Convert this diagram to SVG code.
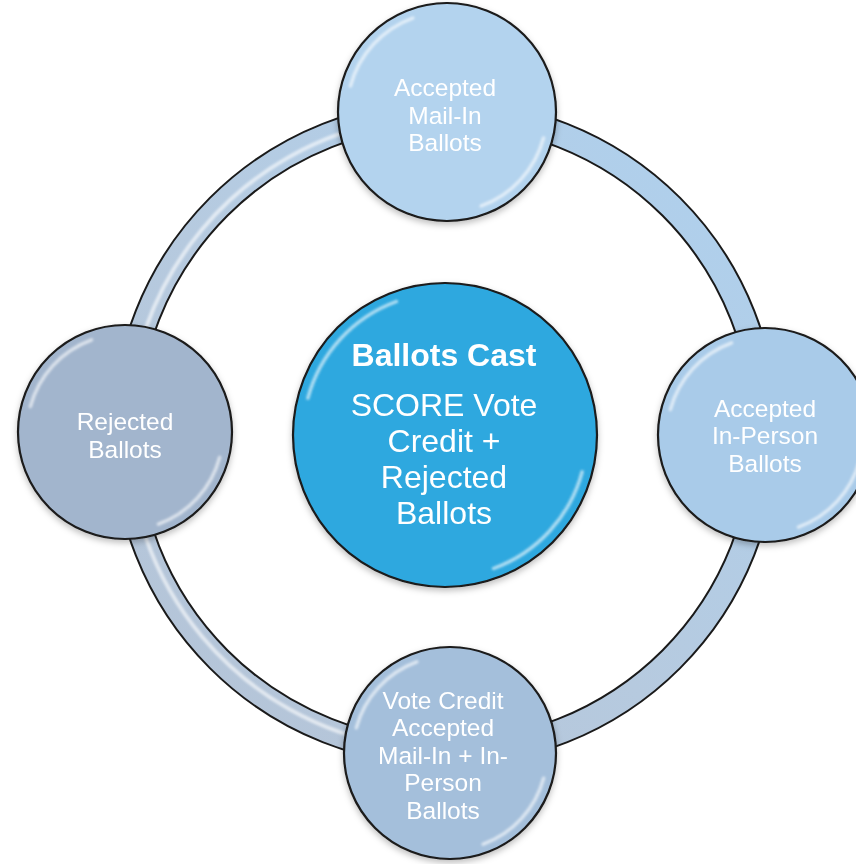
<svg xmlns="http://www.w3.org/2000/svg" width="856" height="864" viewBox="0 0 856 864">
<defs>
<style>
.lbl{font-family:"Liberation Sans",Arial,sans-serif;fill:#ffffff;text-anchor:middle;font-size:24.5px}
.clbl{font-family:"Liberation Sans",Arial,sans-serif;fill:#ffffff;text-anchor:middle;font-size:32px}
.node{stroke:#1a1a1a;stroke-width:2.2}
.gloss{fill:none;stroke:#ffffff;stroke-width:3.5;stroke-opacity:0.6;stroke-linecap:round}
</style>
<linearGradient id="ringGrad" x1="0" y1="1" x2="1" y2="0">
<stop offset="0" stop-color="#b4c3d6"/>
<stop offset="0.45" stop-color="#b6cadf"/>
<stop offset="1" stop-color="#aed1ef"/>
</linearGradient>
<filter id="shadow" x="-20%" y="-20%" width="140%" height="140%">
<feDropShadow dx="0" dy="3" stdDeviation="3" flood-color="#000" flood-opacity="0.25"/>
</filter>
<filter id="soft" x="-10%" y="-10%" width="120%" height="120%">
<feGaussianBlur stdDeviation="1.2"/>
</filter>
</defs>
<rect width="856" height="864" fill="#ffffff"/>

<g id="connectors">
<circle cx="445" cy="433" r="320" fill="none" stroke="#1a1a1a" stroke-width="27"/>
<circle cx="445" cy="433" r="320" fill="none" stroke="url(#ringGrad)" stroke-width="23"/>
<circle cx="445" cy="433" r="317" fill="none" stroke="#ffffff" stroke-width="4" stroke-opacity="0.6" pathLength="360" stroke-dasharray="0 100 160 100" filter="url(#soft)"/>
</g>

<g id="node-top" filter="url(#shadow)">
<circle class="node" cx="447" cy="112" r="109" fill="#b3d3ee"/>
<circle class="gloss" cx="447" cy="112" r="100" pathLength="360" stroke-dasharray="55 125 55 125" transform="rotate(15 447 112)" filter="url(#soft)"/>
<text class="lbl" x="445" y="96">Accepted</text>
<text class="lbl" x="445" y="123.5">Mail-In</text>
<text class="lbl" x="445" y="151">Ballots</text>
</g>

<g id="node-left" filter="url(#shadow)">
<circle class="node" cx="125" cy="432" r="107" fill="#a2b5cd"/>
<circle class="gloss" cx="125" cy="432" r="98" pathLength="360" stroke-dasharray="55 125 55 125" transform="rotate(15 125 432)" filter="url(#soft)"/>
<text class="lbl" x="125" y="430">Rejected</text>
<text class="lbl" x="125" y="457.5">Ballots</text>
</g>

<g id="node-right" filter="url(#shadow)">
<circle class="node" cx="765" cy="435" r="107" fill="#a9cbe9"/>
<circle class="gloss" cx="765" cy="435" r="98" pathLength="360" stroke-dasharray="55 125 55 125" transform="rotate(15 765 435)" filter="url(#soft)"/>
<text class="lbl" x="765" y="416.5">Accepted</text>
<text class="lbl" x="765" y="444">In-Person</text>
<text class="lbl" x="765" y="471.5">Ballots</text>
</g>

<g id="node-bottom" filter="url(#shadow)">
<circle class="node" cx="450" cy="753" r="106" fill="#a4bfdb"/>
<circle class="gloss" cx="450" cy="753" r="97" pathLength="360" stroke-dasharray="55 125 55 125" transform="rotate(15 450 753)" filter="url(#soft)"/>
<text class="lbl" x="443" y="708.5">Vote Credit</text>
<text class="lbl" x="443" y="736">Accepted</text>
<text class="lbl" x="443" y="763.5">Mail-In + In-</text>
<text class="lbl" x="443" y="791">Person</text>
<text class="lbl" x="443" y="818.5">Ballots</text>
</g>

<g id="node-center" filter="url(#shadow)">
<circle class="node" cx="445" cy="435" r="152" fill="#2ea8df"/>
<circle class="gloss" cx="445" cy="435" r="142" pathLength="360" stroke-dasharray="55 125 55 125" transform="rotate(15 445 435)" filter="url(#soft)"/>
<text class="clbl" x="444" y="366" font-weight="bold">Ballots Cast</text>
<text class="clbl" x="444" y="416">SCORE Vote</text>
<text class="clbl" x="444" y="452">Credit +</text>
<text class="clbl" x="444" y="488">Rejected</text>
<text class="clbl" x="444" y="524">Ballots</text>
</g>
</svg>
